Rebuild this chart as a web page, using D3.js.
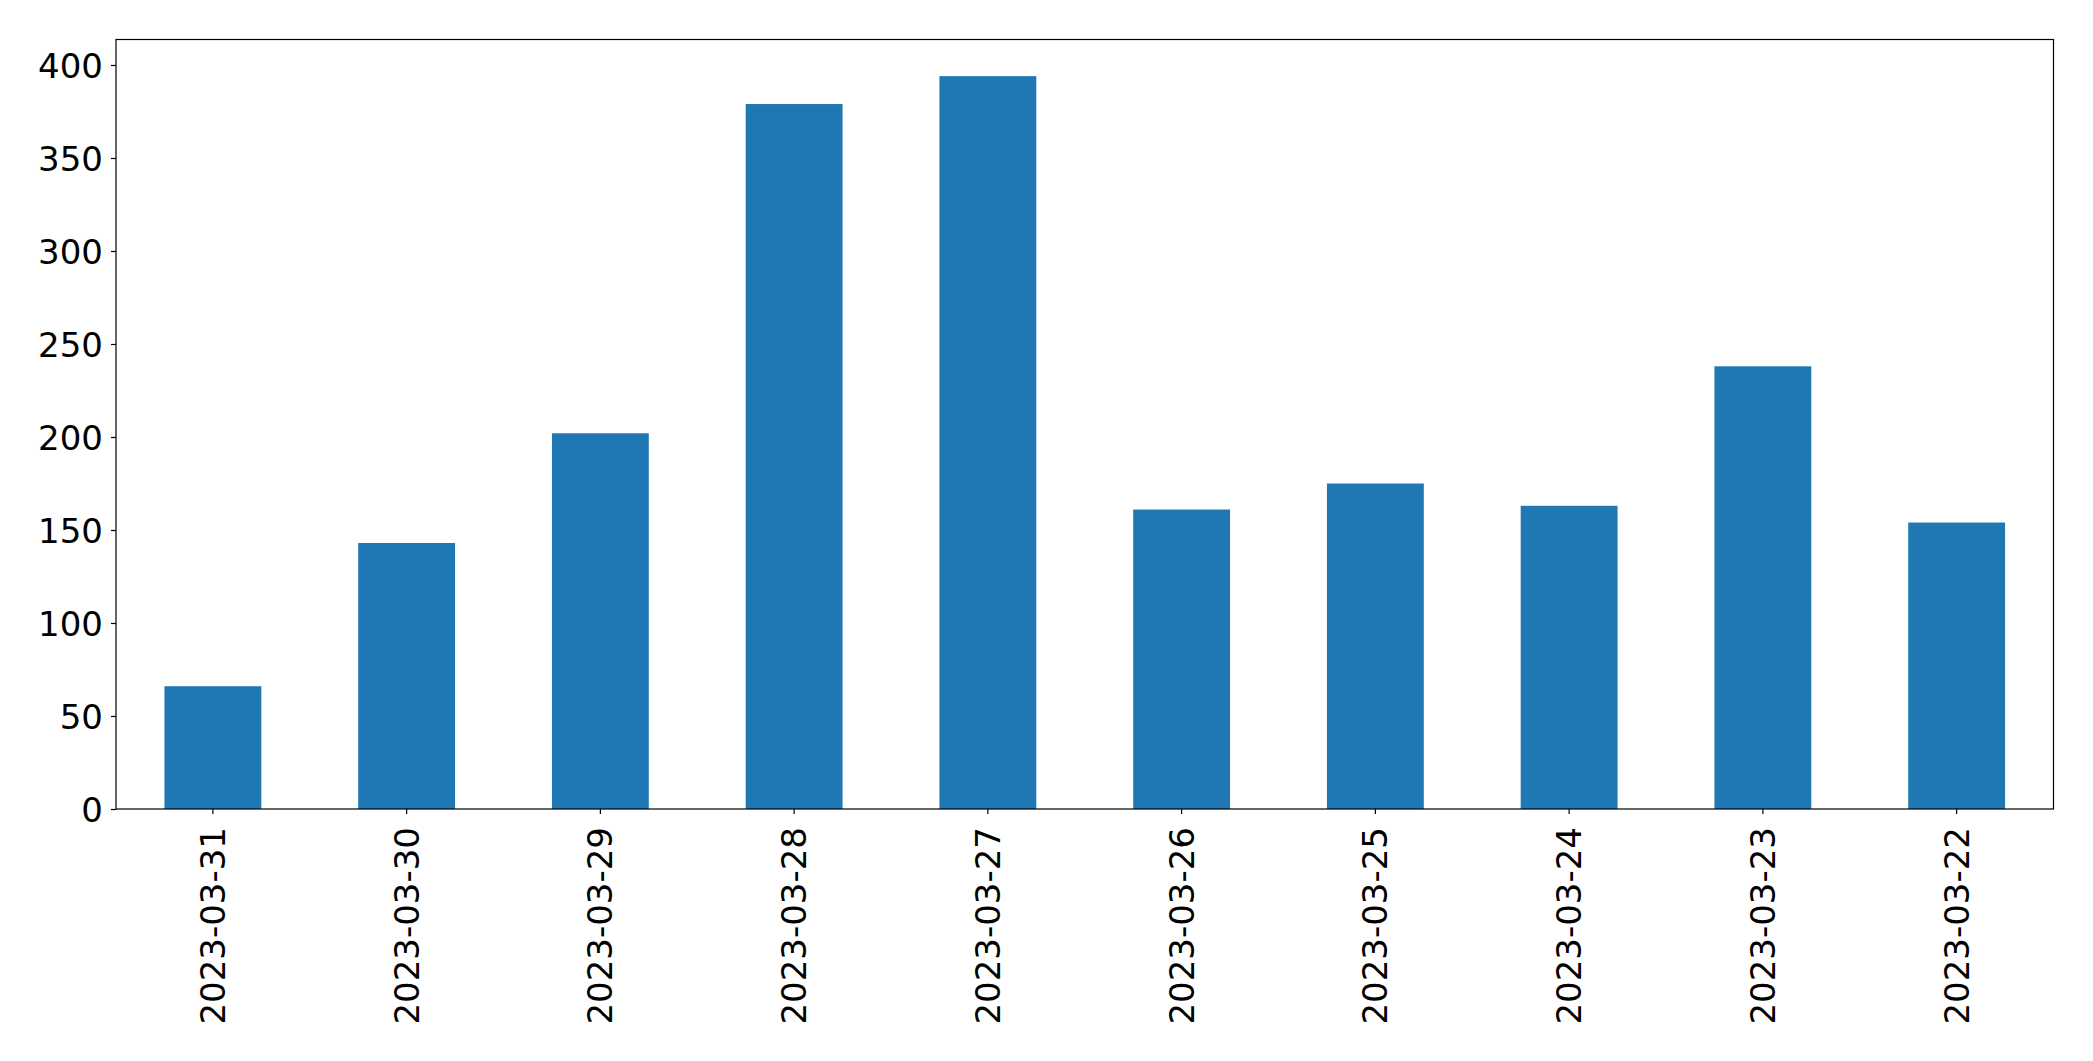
<!DOCTYPE html>
<html>
<head>
<meta charset="utf-8">
<script src="https://cdn.jsdelivr.net/npm/d3@7"></script>
<style>
  body { margin: 0; background: white; }
  svg text { font-family: "DejaVu Sans", sans-serif; fill: black; }
</style>
</head>
<body>
<div id="chart"></div>
<script>
var W = 2093, H = 1061;

// data =======================================================
var dates = ["2023-03-31","2023-03-30","2023-03-29","2023-03-28","2023-03-27",
             "2023-03-26","2023-03-25","2023-03-24","2023-03-23","2023-03-22"];
var counts = [66, 143, 202, 379, 394, 161, 175, 163, 238, 154];
var yTicks = [0, 50, 100, 150, 200, 250, 300, 350, 400];
// ============================================================

var margin = {top: 39.5, right: 40, bottom: 252, left: 116};
var iw = 2053.5 - margin.left;
var ih = 809 - margin.top;

var svg = d3.select('#chart')
            .append('svg')
            .attr('width', W)
            .attr('height', H);

var g = svg.append('g')
           .attr('transform', 'translate(' + margin.left + ',' + margin.top + ')');

var x = d3.scaleBand()
          .domain(dates)
          .range([0, iw])
          .paddingInner(0.5)
          .paddingOuter(0.25);

var y = d3.scaleLinear()
          .domain([0, d3.max(counts) * 1.05])
          .range([ih, 0]);

// bars
g.selectAll('rect.bar')
 .data(dates)
 .enter()
 .append('rect')
   .attr('class', 'bar')
   .attr('x', function(d){ return x(d); })
   .attr('width', x.bandwidth())
   .attr('y', function(d, i){ return y(counts[i]); })
   .attr('height', function(d, i){ return ih - y(counts[i]); })
   .attr('fill', '#1f77b4');

// y axis
var yAxis = g.append('g')
             .call(d3.axisLeft(y).tickValues(yTicks).tickSize(5).tickPadding(8).tickFormat(d3.format('d')));
yAxis.select('.domain').remove();
yAxis.selectAll('line').attr('stroke', 'black').attr('stroke-width', 1.2);
yAxis.selectAll('text').style('font-size', '34px').attr('dy', '0.36em');

// x axis
var xAxis = g.append('g')
             .attr('transform', 'translate(0,' + ih + ')')
             .call(d3.axisBottom(x).tickSize(5).tickPadding(0));
xAxis.select('.domain').remove();
xAxis.selectAll('line').attr('stroke', 'black').attr('stroke-width', 1.2);
xAxis.selectAll('text')
     .style('font-size', '34px')
     .attr('text-anchor', 'end')
     .attr('dy', null)
     .attr('dominant-baseline', 'central')
     .attr('transform', 'translate(0,18) rotate(-90)')
     .attr('x', 0)
     .attr('y', 0);

// frame
g.append('rect')
 .attr('x', 0).attr('y', 0)
 .attr('width', iw).attr('height', ih)
 .attr('fill', 'none')
 .attr('stroke', 'black')
 .attr('stroke-width', 1.2);
</script>
</body>
</html>
